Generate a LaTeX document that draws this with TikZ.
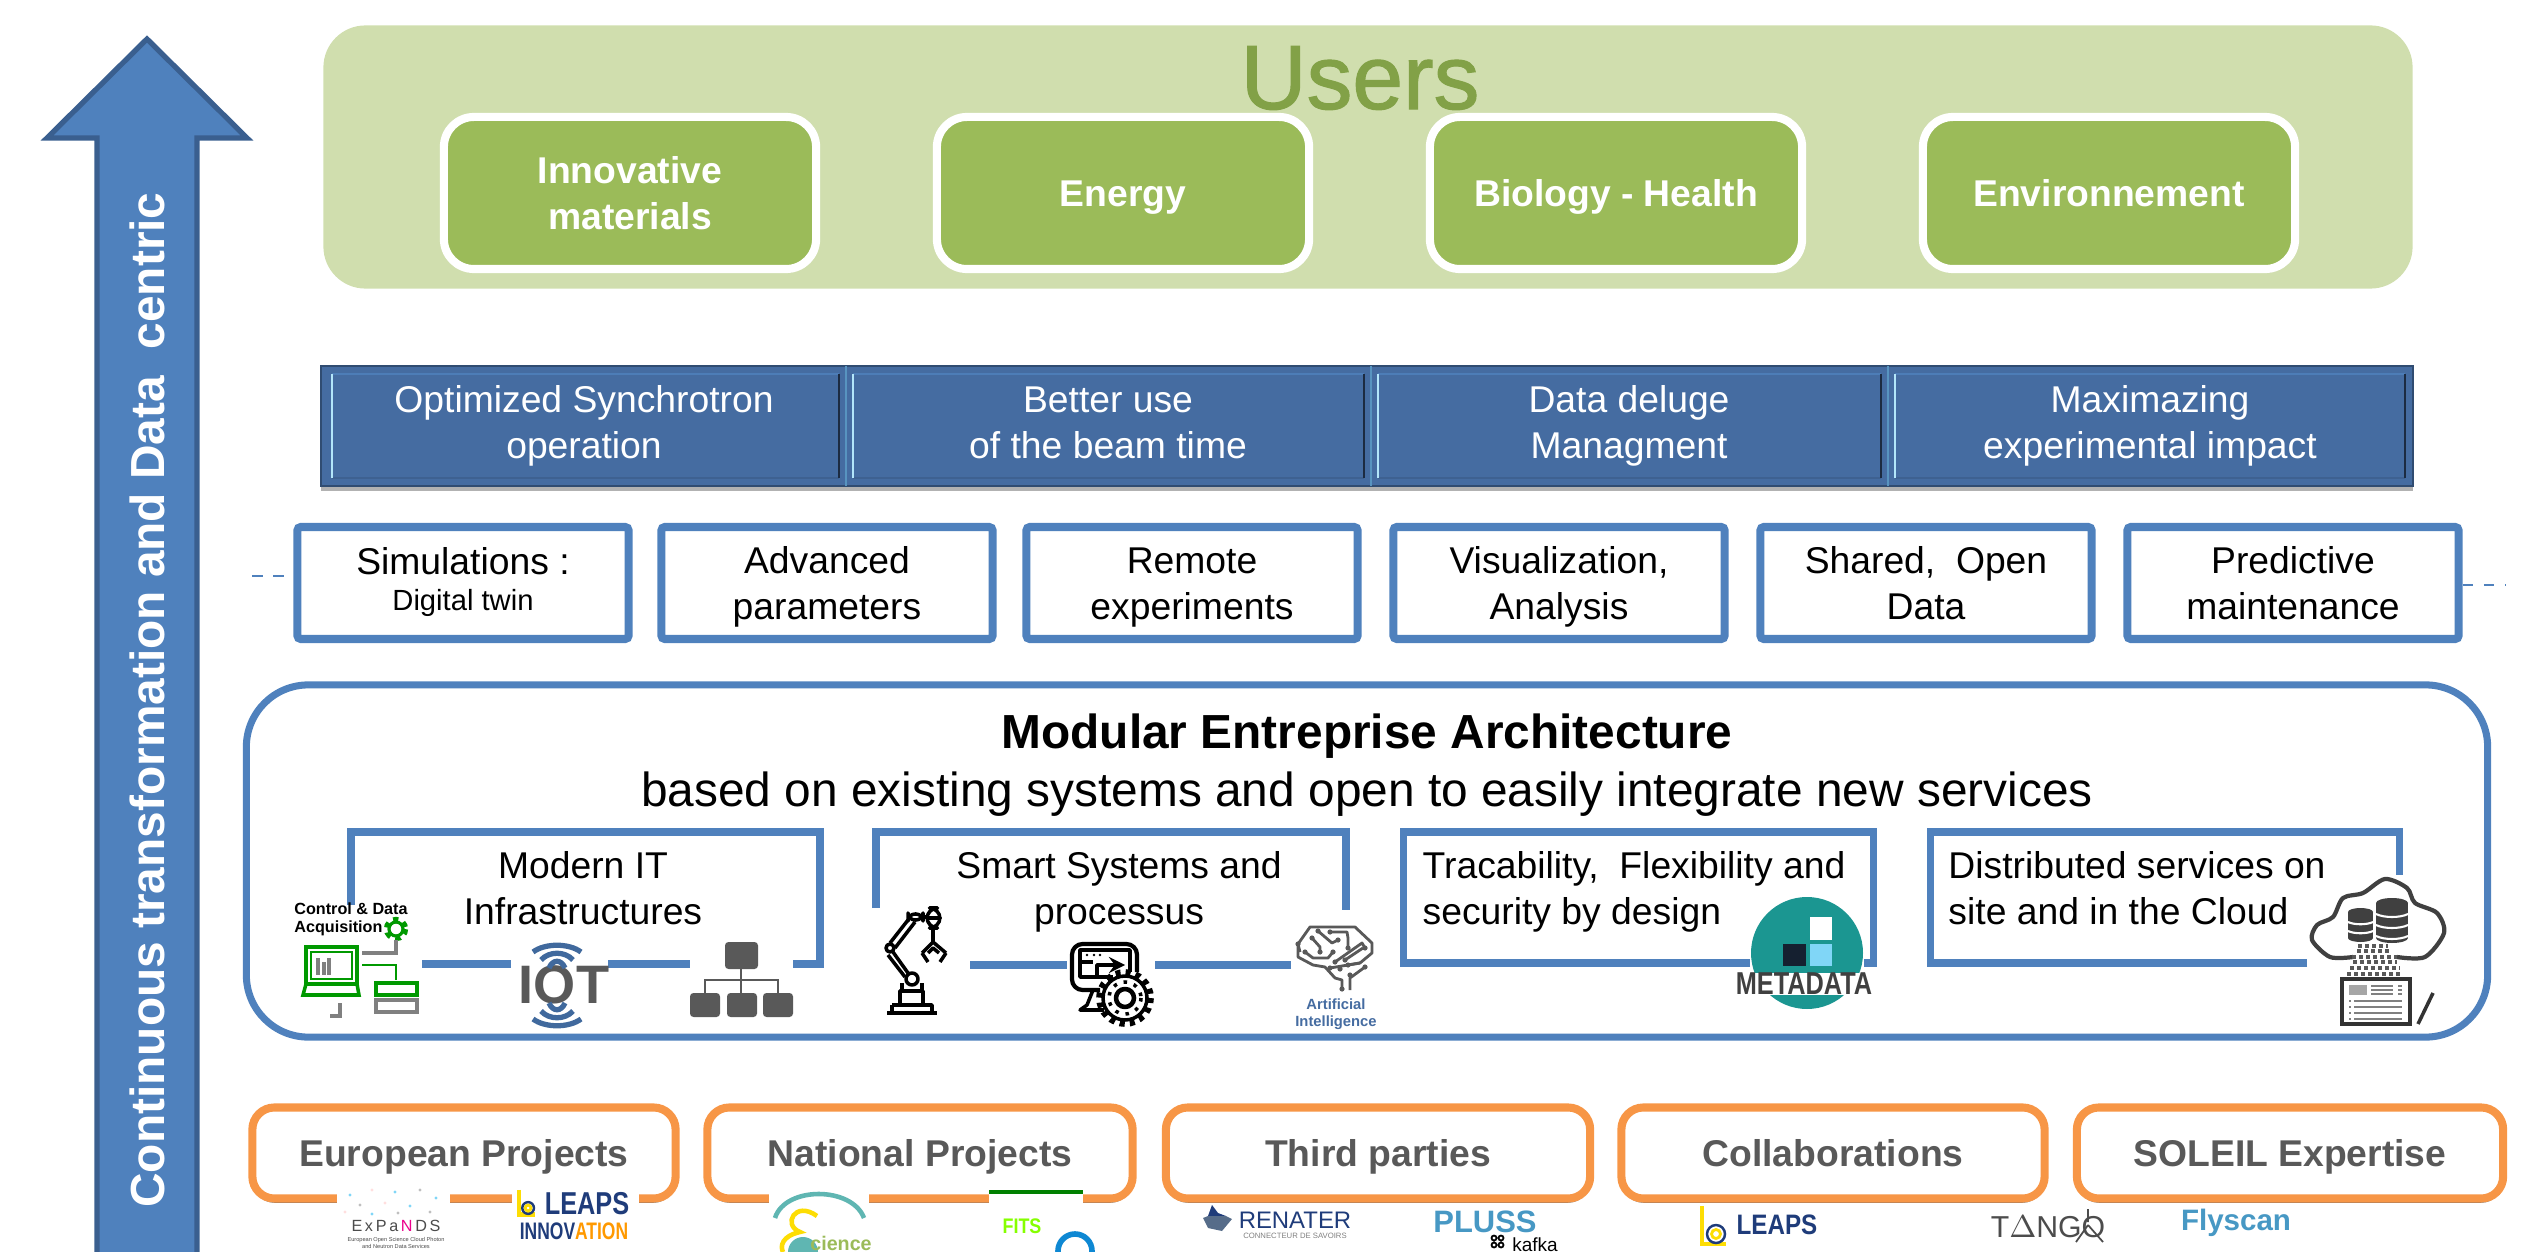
\documentclass[tikz,border=0pt]{standalone}
\usepackage{fontspec}
\setmainfont{Liberation Sans}
\newfontfamily\usersfont[BoldFont={Liberation Sans},BoldFeatures={FakeBold=1.2}]{Liberation Sans}
\usepackage{tikz}
\usetikzlibrary{shadows}
\definecolor{steel}{HTML}{4F81BD}
\definecolor{steeldark}{HTML}{3A5F8F}
\definecolor{bandblue}{HTML}{456CA1}
\definecolor{olive}{HTML}{9BBB59}
\definecolor{olivemid}{HTML}{82A147}
\definecolor{olivepale}{HTML}{D0DEAE}
\definecolor{tangerine}{HTML}{F79646}
\definecolor{slate}{HTML}{595959}
\definecolor{teal}{HTML}{1B9691}
\definecolor{navy}{HTML}{1F3C7A}
\newcommand{\bodyfont}{\fontsize{10.6}{12.9}\selectfont}
\newcommand{\levelstrut}{\rule[-3.3pt]{0pt}{14.2pt}}
\newcommand{\tallstrut}{\rule[-3.3pt]{0pt}{27.1pt}}
\newcommand{\leapsmark}[3]{
        \begin{scope}[shift={(#1,#2)},scale=#3]
            \draw[yellow!80!orange, line width=1.2pt] (0,-28) -- (0,10) -- (24,10);
            \draw[navy, line width=.7pt] (14,0) circle (9);
            \draw[yellow!80!orange, line width=.8pt] (14,0) circle (4.5);
        \end{scope}
}
\tikzset{
    panel/.style = {fill=olivepale, rounded corners=.42cm, minimum width=20.88cm, minimum height=2.63cm},
    usercard/.style = {draw=white, line width=2.3pt, fill=olive, text=white, rounded corners=.3cm, align=center,
        minimum width=3.72cm, minimum height=1.52cm, font=\bfseries\bodyfont,
        execute at begin node=\levelstrut, execute at end node=\levelstrut,
        drop shadow={shadow xshift=0pt, shadow yshift=-1pt, opacity=.55, fill=black}},
    bandcell/.style = {text=white, align=center, font=\bodyfont,
        execute at begin node=\tallstrut, execute at end node=\levelstrut},
    goalbox/.style = {draw=steel, line width=2.3pt, fill=white, align=center, rounded corners=1pt,
        inner ysep=0pt, minimum width=3.31cm, minimum height=1.12cm, font=\bodyfont,
        execute at begin node=\tallstrut, execute at end node=\levelstrut},
    framebar/.style = {draw=steel, line width=2pt, line cap=butt},
    framelabel/.style = {align=left, font=\bodyfont,
        execute at begin node=\tallstrut, execute at end node=\levelstrut},
    sourcebox/.style = {draw=tangerine, line width=2.3pt, fill=white, text=slate, rounded corners=.22cm,
        minimum height=.91cm, font=\bfseries\bodyfont,
        execute at begin node=\levelstrut, execute at end node=\levelstrut,
        drop shadow={shadow xshift=0pt, shadow yshift=-1.2pt, opacity=.6, fill=black}},
    stub/.style = {draw=steel, line width=.6pt, dashed},
    iconline/.style = {draw=black, line width=1pt, line join=round},
    circuit/.style = {draw=slate, line width=.8pt, line join=round},
    tinygreen/.style = {draw=green!60!black, line width=.8pt},
    gearteeth/.style = {dash pattern=on 1.4pt off 1.4pt}
}
\begin{document}
\begin{tikzpicture}
        [
            x = .01cm,
            y = -.01cm
        ]

        \clip (0,0) rectangle (2545,1252);

        \draw[fill=steel, draw=steeldark, line width=1.5pt, line join=miter]
            (147,39) -- (247,138) -- (197,138) -- (197,1270) -- (97,1270) -- (97,138) -- (47,138) -- cycle;
        \node[rotate=90, text=white, font=\bfseries\fontsize{13.6}{16}\selectfont] (trend) at (147,700)
            {Continuous transformation and Data\ \ centric};

        \node[panel] (users) at (1368,157) {};
        \node[text=olivemid, font=\usersfont\bfseries\fontsize{26}{30}\selectfont] (userstitle) at (1360,78) {Users};
        \node[usercard, execute at begin node=\tallstrut] (materials) at (630,193) {Innovative\\materials};
        \node[usercard] (energy) at (1123,193) {Energy};
        \node[usercard] (biology) at (1616,193) {Biology - Health};
        \node[usercard] (environment) at (2109,193) {Environnement};

        \node[fill=bandblue, draw=black!30!bandblue, line width=.4pt, minimum width=20.91cm, minimum height=1.2cm,
            drop shadow={shadow xshift=0pt, shadow yshift=-1.5pt, opacity=.3, fill=black}] (band) at (1367,426) {};
        \foreach \l/\r in {332/839, 853/1364, 1378/1881, 1895/2405} {
            \draw[steel!80!bandblue, line width=.8pt] (\l,374) -- (\r,374);
            \draw[black!10!bandblue, line width=.8pt] (\l,478) -- (\r,478);
            \draw[cyan!30!white, line width=.7pt] (\l,374) -- (\l,478);
            \draw[black!60!bandblue, line width=.8pt] (\r,374) -- (\r,478);
        }
        \foreach \d in {846, 1371, 1888} {
            \draw[cyan!30!steel, line width=.6pt] (\d,366) -- (\d,486);
        }
        \node[bandcell] (operation) at (584,422) {Optimized Synchrotron\\operation};
        \node[bandcell] (beamtime) at (1108,422) {Better use\\of the beam time};
        \node[bandcell] (deluge) at (1629,422) {Data deluge\\Managment};
        \node[bandcell] (impact) at (2150,422) {Maximazing\\experimental impact};

        \node[goalbox] (simulations) at (463,583) {Simulations :\\[-2.7pt]{\fontsize{8.3}{10}\selectfont Digital twin\rule[-8pt]{0pt}{1pt}}};
        \node[goalbox] (parameters) at (827,583) {Advanced\\parameters};
        \node[goalbox] (remote) at (1192,583) {Remote\\experiments};
        \node[goalbox] (analysis) at (1559,583) {Visualization,\\Analysis};
        \node[goalbox] (opendata) at (1926,583) {Shared,\ \ Open\\Data};
        \node[goalbox] (predictive) at (2293,583) {Predictive\\maintenance};
        \coordinate (leftstub) at (252,576);
        \coordinate (rightstub) at (2505,585);
        \draw[stub] (leftstub) -- (simulations.west |- leftstub);
        \draw[stub] (predictive.east |- rightstub) -- (rightstub);

        \node[draw=steel, line width=2pt, fill=white, rounded corners=.62cm, minimum width=22.4cm, minimum height=3.52cm]
            (architecture) at (1367,861) {};
        \node[font=\bfseries\fontsize{13.6}{16}\selectfont] (archtitle) at (1367,736) {Modular Entreprise Architecture};
        \node[font=\fontsize{13.6}{16}\selectfont] (archsub) at (1367,794) {based on existing systems and open to easily integrate new services};

        \draw[framebar] (351,905) -- (351,832) -- (820,832) -- (820,964) -- (793,964);
        \draw[framebar] (422,964) -- (511,964);
        \draw[framebar] (608,964) -- (690,964);
        \draw[framebar] (876,908) -- (876,832) -- (1346,832) -- (1346,910);
        \draw[framebar] (970,965) -- (1067,965);
        \draw[framebar] (1155,965) -- (1291,965);
        \draw[framebar] (1750,963) -- (1403,963) -- (1403,832) -- (1873,832) -- (1873,963) -- (1864,963);
        \draw[framebar] (2307,963) -- (1930,963) -- (1930,832) -- (2399,832) -- (2399,875);

        \node[framelabel, align=center] (modernit) at (583,888) {Modern IT\\Infrastructures};
        \node[framelabel, align=center] (smart) at (1119,888) {Smart Systems and\\processus};
        \node[framelabel] (security) at (1634,888) {Tracability,\ \ Flexibility and\\security by design};
        \node[framelabel] (distributed) at (2137,888) {Distributed services on\\site and in the Cloud};

        \node[align=left, font=\bfseries\fontsize{4.6}{5.1}\selectfont, inner sep=0pt] (acquisition) at (351,919) {Control \& Data\\Acquisition};
        \draw[green!60!black, line width=.9pt] (396,929) circle (7);
        \draw[green!60!black, line width=1.8pt, gearteeth] (396,929) circle (9);
        \draw[tinygreen, line width=1pt] (306,947) rectangle (357,984);
        \draw[tinygreen] (311,952) rectangle (352,979);
        \draw[tinygreen, line width=1pt] (306,984) -- (303,995) -- (359,995) -- (357,984);
        \draw[gray, line width=.9pt] (318,958) -- (318,975) (324,962) -- (324,975) (329,958) -- (329,975);
        \draw[gray, line width=1pt] (396,940) -- (396,953) -- (362,953);
        \draw[tinygreen] (362,965) -- (396,965) -- (396,980);
        \draw[tinygreen, line width=1.1pt] (376,983) rectangle (417,995);
        \draw[gray, line width=1.1pt] (376,1000) rectangle (417,1012);
        \draw[gray, line width=1pt] (340,1003) -- (340,1016) -- (330,1016);

        \node[text=slate, font=\bfseries\fontsize{15.4}{17}\selectfont, inner sep=0pt] (iot) at (564,985) {IOT};
        \foreach \w/\t in {24/945, 16/953, 8/961} {
            \draw[steeldark!70!steel, line width=1.5pt] (557-\w,\t+7) .. controls (557-\w/2,\t-2) and (557+\w/2,\t-2) .. (557+\w,\t+7);
        }
        \foreach \w/\t in {24/1026, 16/1018, 8/1010} {
            \draw[steeldark!70!steel, line width=1.5pt] (557-\w,\t-7) .. controls (557-\w/2,\t+2) and (557+\w/2,\t+2) .. (557+\w,\t-7);
        }

        \fill[slate, rounded corners=1pt] (725,942) rectangle (758,969);
        \fill[slate, rounded corners=1pt] (690,993) rectangle (720,1017);
        \fill[slate, rounded corners=1pt] (727,993) rectangle (757,1017);
        \fill[slate, rounded corners=1pt] (763,993) rectangle (793,1017);
        \draw[slate, line width=.7pt] (741,969) -- (741,993) (705,993) -- (705,980) -- (778,980) -- (778,993);

        \draw[iconline, line width=1.4pt] (887,1013) -- (937,1013);
        \draw[iconline] (892,1005) -- (932,1005) -- (932,1013) (892,1005) -- (892,1013);
        \draw[iconline] (900,1005) -- (900,991) -- (923,991) -- (923,1005);
        \draw[iconline] (902,991) -- (902,983) (922,991) -- (922,983);
        \draw[iconline] (912,979) circle (6);
        \draw[iconline] (893,952) -- (908,973) (888,955) -- (905,977);
        \draw[iconline] (890,948) circle (4);
        \draw[iconline] (890,943) -- (908,920) (895,948) -- (915,922);
        \draw[iconline, rounded corners=2pt] (908,914) rectangle (923,920);
        \draw[iconline, rounded corners=3pt] (927,928) -- (927,908) -- (940,908) -- (940,928) -- cycle;
        \draw[iconline] (923,917) -- (927,917) (927,918) -- (940,918);
        \draw[iconline] (933,928) -- (933,942);
        \draw[iconline] (922,953) -- (933,942) -- (946,953) (922,953) -- (928,962) (946,953) -- (940,962);
        \draw[iconline] (928,953) -- (933,948) -- (939,953);

        \draw[iconline, line width=1.2pt, rounded corners=3pt] (1100,990) -- (1072,990) -- (1072,944) -- (1137,944) -- (1137,972);
        \draw[iconline] (1113,977) -- (1080,977) -- (1080,950) -- (1130,950) -- (1130,972);
        \draw[iconline] (1080,962) -- (1093,962);
        \fill (1087,955) circle (1.3) (1094,955) circle (1.3) (1100,955) circle (1.3);
        \draw[iconline, ->, >=stealth] (1097,975) -- (1097,965) -- (1125,965);
        \draw[iconline] (1093,990) -- (1087,1005) -- (1080,1010) -- (1104,1010);
        \draw[iconline, fill=white] (1125,998) circle (22);
        \draw[black, line width=2.2pt, gearteeth] (1125,998) circle (25);
        \draw[iconline, line width=1.3pt] (1125,998) circle (9);
        \draw[black, line width=1pt, dotted] (1125,998) circle (16);

        \draw[circuit] (1300,952) -- (1298,944) -- (1310,927) -- (1355,927) -- (1372,943) -- (1372,953) -- (1360,963) -- (1348,965);
        \draw[circuit] (1298,945) -- (1298,957) -- (1313,965) -- (1325,967) -- (1335,978) -- (1342,980) -- (1342,989);
        \draw[circuit] (1350,990) -- (1350,978) -- (1365,967);
        \draw[circuit] (1312,938) -- (1320,947) -- (1320,952);
        \draw[circuit] (1318,931) -- (1332,943) -- (1338,940);
        \draw[circuit] (1330,932) -- (1347,932) -- (1348,938) -- (1348,948);
        \draw[circuit] (1305,952) -- (1313,958) -- (1328,958) -- (1333,952);
        \draw[circuit] (1335,962) -- (1362,943) -- (1365,948);
        \draw[circuit] (1345,960) -- (1363,948);
        \draw[circuit] (1330,968) -- (1360,963);
        \foreach \p in {(1298,944),(1312,938),(1318,931),(1330,932),(1338,940),(1348,948),(1320,952),(1305,952),(1333,952),(1335,962),(1345,960),(1365,948),(1330,968),(1340,969),(1348,965),(1365,967),(1342,989),(1350,975)} {
            \fill[slate] \p circle (2.6);
        }
        \node[text=bandblue, align=center, font=\bfseries\fontsize{4.2}{4.8}\selectfont, inner sep=0pt] (artificial) at (1336,1014) {Artificial\\Intelligence};

        \fill[teal] (1807,953) ellipse (56 and 56);
        \node[fill=white, inner sep=0pt, minimum width=1.41cm, minimum height=.22cm, text=black!75,
            font=\bfseries\fontsize{9}{10}\selectfont] (metadata) at (1804,984) {\scalebox{.8}[1]{METADATA}};
        \fill[white] (1810,917) rectangle (1832,940);
        \fill[black!70!bandblue] (1783,944) rectangle (1806,966);
        \fill[cyan!50!white] (1810,944) rectangle (1832,966);

        \draw[black!75, line width=1.2pt] plot[smooth] coordinates {(2397,957) (2425,957) (2444,933) (2437,913) (2415,903) (2407,888) (2385,879) (2363,893) (2343,898) (2333,917) (2317,925) (2312,940) (2330,957) (2353,957)};
        \fill[black!75] (2348,912) rectangle (2373,938);
        \fill[black!75] (2360.5,912) ellipse (12.5 and 4);
        \fill[black!75] (2360.5,938) ellipse (12.5 and 4);
        \fill[black!75] (2376,903) rectangle (2408,938);
        \fill[black!75] (2392,903) ellipse (16 and 5);
        \fill[black!75] (2392,938) ellipse (16 and 5);
        \foreach \y in {922, 931} {
            \draw[white, line width=.6pt] (2348,\y) .. controls (2354,\y+3) and (2367,\y+3) .. (2373,\y);
        }
        \foreach \y in {914, 925, 936} {
            \draw[white, line width=.6pt] (2376,\y) .. controls (2384,\y+4) and (2400,\y+4) .. (2408,\y);
        }
        \foreach \y/\a/\b in {946/2358/2388, 951/2357/2392, 957/2352/2397, 962/2353/2397, 968/2350/2400, 974/2347/2402} {
            \draw[black!65, line width=1pt, densely dotted] (\a,\y) -- (\b,\y);
        }
        \draw[black!80, line width=1.2pt, fill=white] (2342,979) rectangle (2410,1024);
        \fill[gray!70] (2349,985) rectangle (2367,995);
        \foreach \y in {986, 990, 994} {
            \draw[gray, line width=.7pt] (2371,\y) -- (2393,\y) (2398,\y) -- (2402,\y);
        }
        \foreach \y in {1001, 1007, 1013, 1019} {
            \draw[gray, line width=.8pt] (2354,\y) -- (2402,\y) (2349,\y) -- (2351,\y);
        }
        \draw[black!80, line width=1pt] (2418,1024) -- (2433,993);

        \node[sourcebox, minimum width=4.23cm] (european) at (464,1153) {European Projects};
        \node[sourcebox, minimum width=4.25cm] (national) at (920,1153) {National Projects};
        \node[sourcebox, minimum width=4.24cm] (third) at (1378,1153) {Third parties};
        \node[sourcebox, minimum width=4.23cm] (collab) at (1833,1153) {Collaborations};
        \node[sourcebox, minimum width=4.26cm] (expertise) at (2290,1153) {SOLEIL Expertise};

        \fill[white] (337,1183) rectangle (450,1252);
        \foreach \p/\c in {(350,1195)/cyan, (372,1190)/pink, (395,1192)/cyan, (420,1190)/gray, (436,1198)/cyan, (360,1205)/gray, (385,1203)/pink, (410,1206)/cyan, (345,1212)/pink, (430,1212)/gray, (372,1214)/cyan, (398,1213)/gray} {
            \fill[\c!50] \p circle (1.6);
        }
        \node[text=black!70, font=\fontsize{4.6}{5}\selectfont, inner sep=0pt] (expands) at (396,1226) {E\,x\,P\,a\,{\color{magenta}N}\,D\,S};
        \node[text=black!70, align=center, font=\fontsize{1.6}{1.9}\selectfont, inner sep=0pt] (expandssub) at (396,1243) {European Open Science Cloud Photon\\and Neutron Data Services};

        \fill[white] (512,1183) rectangle (639,1243);
        \leapsmark{519}{1208}{.65}
        \node[text=navy, font=\bfseries\fontsize{9}{10}\selectfont, inner sep=0pt] (leapsinno) at (587,1204) {\scalebox{.8}[1]{LEAPS}};
        \node[text=navy, font=\bfseries\fontsize{6.8}{8}\selectfont, inner sep=0pt] (innovation) at (574,1231) {\scalebox{.73}[1]{INNOV\textcolor{orange!80!yellow}{ATION}}};

        \fill[white] (769,1193) rectangle (869,1252);
        \draw[teal!70!white, line width=1.3pt] (775,1218) .. controls (785,1186) and (852,1186) .. (864,1218);
        \draw[yellow!80!orange, line width=1.3pt] (817,1216) .. controls (795,1200) and (782,1225) .. (800,1232) .. controls (782,1236) and (780,1246) .. (783,1252);
        \fill[teal!70!white] (803,1252) circle (15);
        \node[text=olive, font=\bfseries\fontsize{5.6}{6}\selectfont, inner sep=0pt] (science) at (841,1243) {cience};

        \fill[white] (989,1190) rectangle (1083,1252);
        \draw[green!50!black, line width=1pt] (989,1192) -- (1083,1192);
        \node[text=lime!70!green, font=\bfseries\fontsize{6}{7}\selectfont, inner sep=0pt] (fits) at (1022,1226) {\scalebox{.85}[1]{FITS}};
        \draw[cyan!70!blue, line width=1.6pt] (1075,1251) circle (17);

        \fill[navy] (1212,1205) -- (1218,1213) -- (1226,1216) -- (1208,1216) -- cycle;
        \fill[steeldark!60!gray] (1208,1216) -- (1226,1216) -- (1232,1219) -- (1222,1231) -- (1208,1228) -- (1203,1218) -- cycle;
        \node[text=navy, font=\fontsize{6.8}{8}\selectfont, inner sep=0pt] (renater) at (1295,1220) {RENATER};
        \node[text=gray, font=\fontsize{2.2}{3}\selectfont, inner sep=0pt] (renatersub) at (1295,1236) {CONNECTEUR DE SAVOIRS};

        \node[text=cyan!50!bandblue, font=\bfseries\fontsize{8.8}{10}\selectfont, inner sep=0pt] (pluss) at (1485,1222) {PLUSS};
        \node[text=black, font=\fontsize{5.4}{6}\selectfont, inner sep=0pt] (kafka) at (1535,1245) {kafka};
        \draw[black, line width=.5pt] (1494,1238) circle (2.5) (1494,1245) circle (2.5) (1501,1238) circle (2.5) (1501,1245) circle (2.5);

        \leapsmark{1702}{1234}{1}
        \node[text=navy, font=\bfseries\fontsize{8}{10}\selectfont, inner sep=0pt] (leaps) at (1777,1225) {\scalebox{.86}[1]{LEAPS}};

        \node[text=black!70, font=\fontsize{8.6}{10}\selectfont, inner sep=0pt] (tango) at (2048,1227) {T$\Delta$NGO};
        \draw[black!70, line width=.5pt] (2088,1209) -- (2088,1222) (2088,1225) -- (2076,1242) (2088,1225) -- (2103,1242);

        \node[text=cyan!50!bandblue, font=\bfseries\fontsize{8.4}{10}\selectfont, inner sep=0pt] (flyscan) at (2236,1223) {Flyscan};
\end{tikzpicture}
\end{document}
